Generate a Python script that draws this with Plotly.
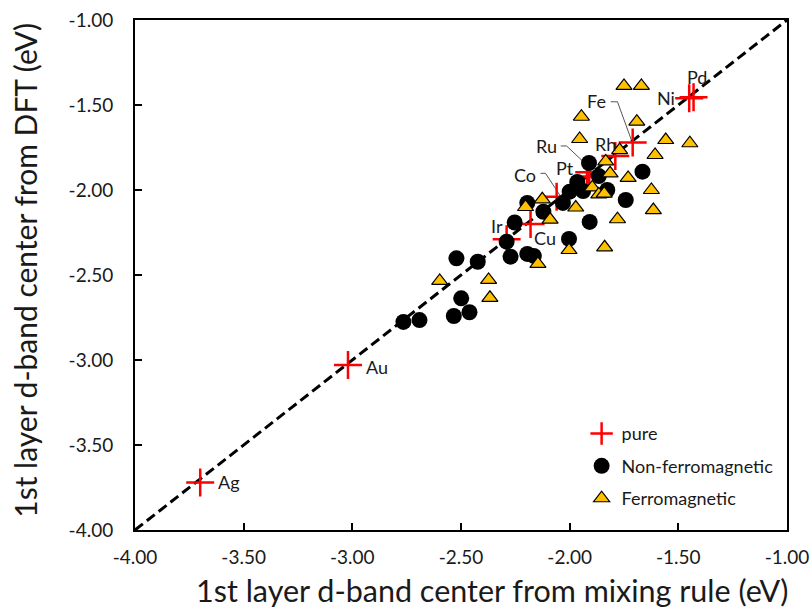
import plotly.graph_objects as go

# ---- data ----
pure_names = ["Ag", "Au", "Pd", "Ni", "Fe", "Rh", "Ru", "Pt", "Co", "Cu", "Ir"]
pure_x = [-3.70, -3.02, -1.43, -1.45, -1.71, -1.79, -1.91, -1.92, -2.06, -2.18, -2.29]
pure_y = [-3.72, -3.03, -1.455, -1.46, -1.72, -1.80, -1.895, -1.92, -2.04, -2.20, -2.29]

nonferro_x = [-2.765, -2.691, -2.533, -2.461, -2.499, -2.521, -2.423, -2.290, -2.253,
              -2.272, -2.195, -2.165, -2.003, -2.195, -2.121, -2.031, -2.000, -1.965,
              -1.938, -1.911, -1.866, -1.827, -1.908, -1.742, -1.665]
nonferro_y = [-2.776, -2.765, -2.741, -2.719, -2.637, -2.402, -2.422, -2.304, -2.191,
              -2.392, -2.376, -2.388, -2.288, -2.076, -2.128, -2.076, -2.010, -1.953,
              -2.006, -1.841, -1.918, -2.000, -2.188, -2.059, -1.892]

ferro_x = [-2.598, -2.373, -2.367, -2.146, -2.203, -2.126, -2.090, -1.972, -2.003,
           -1.896, -1.866, -1.841, -1.834, -1.814, -1.770, -1.731, -1.780, -1.839,
           -1.954, -1.946, -1.691, -1.750, -1.670, -1.607, -1.558, -1.447, -1.624, -1.615]
ferro_y = [-2.535, -2.529, -2.634, -2.435, -2.100, -2.055, -2.174, -2.103, -2.353,
           -1.985, -2.026, -2.021, -1.832, -1.902, -1.765, -1.929, -2.172, -2.337,
           -1.700, -1.569, -1.598, -1.388, -1.388, -1.794, -1.706, -1.725, -2.000, -2.118]

parity_x = [-4.0, -1.0]
parity_y = [-4.0, -1.0]

tick_vals = [-4.0, -3.5, -3.0, -2.5, -2.0, -1.5, -1.0]
tick_text = ["-4.00", "-3.50", "-3.00", "-2.50", "-2.00", "-1.50", "-1.00"]

x_title = "1st layer d-band center from mixing rule (eV)"
y_title = "1st layer d-band center from DFT (eV)"

# label offsets (pixels) and anchors for pure-metal labels
label_dx = [16, 16, 3, -12, -36, -10, -43, -22, -32, 14, -10]
label_dy = [0, -2, 20, 0, 41, 12, 26, 8, 22, -14, 13]
label_anchor = ["left", "left", "center", "right", "center", "center", "center",
                "center", "center", "center", "center"]

# leader lines (data coords) for Fe, Ru, Co
leaders = [
    ([-1.811, -1.780, -1.716], [-1.481, -1.481, -1.706]),
    ([-2.041, -2.014, -1.935], [-1.741, -1.741, -1.836]),
    ([-2.134, -2.111, -2.041], [-1.902, -1.902, -2.039]),
]

FONT = "Lato, Carlito, Calibri, sans-serif"
TXT = "#1a1a1a"

fig = go.Figure()

fig.add_trace(go.Scatter(x=parity_x, y=parity_y, mode="lines",
                         line=dict(color="black", width=3, dash="10px,5px"),
                         showlegend=False, hoverinfo="skip"))

for lx, ly in leaders:
    fig.add_trace(go.Scatter(x=lx, y=ly, mode="lines",
                             line=dict(color="#555555", width=1),
                             showlegend=False, hoverinfo="skip"))

fig.add_trace(go.Scatter(x=pure_x, y=pure_y, mode="markers", name="pure",
                         legendgroup="a",
                         marker=dict(symbol="cross-thin", size=20,
                                     line=dict(color="#ff0000", width=2.5),
                                     color="#ff0000")))

fig.add_trace(go.Scatter(x=nonferro_x, y=nonferro_y, mode="markers",
                         name="Non-ferromagnetic", legendgroup="b",
                         marker=dict(symbol="circle", size=16, color="black",
                                     line=dict(width=0))))

fig.add_trace(go.Scatter(x=ferro_x, y=ferro_y, mode="markers",
                         name="Ferromagnetic", legendgroup="c",
                         marker=dict(symbol="triangle-up", size=14, color="#ffc000",
                                     line=dict(color="black", width=1.2))))

for name, x, y, dx, dy, anc in zip(pure_names, pure_x, pure_y, label_dx, label_dy, label_anchor):
    fig.add_annotation(x=x, y=y, text=name, showarrow=False, xshift=dx, yshift=dy,
                       xanchor=anc, yanchor="middle",
                       font=dict(family=FONT, size=18, color=TXT))

# axis titles placed as annotations (offset like the original)
fig.add_annotation(text=x_title, xref="paper", yref="paper", x=0.548, y=-0.118,
                   xanchor="center", yanchor="middle", showarrow=False,
                   font=dict(family=FONT, size=30.5, color=TXT))
fig.add_annotation(text=y_title, xref="paper", yref="paper", x=-0.169, y=0.51,
                   xanchor="center", yanchor="middle", showarrow=False, textangle=-90,
                   font=dict(family=FONT, size=30, color=TXT))

axis_common = dict(
    range=[-4.0, -1.0], tickvals=tick_vals, ticktext=tick_text,
    showgrid=False, zeroline=False, showline=True, linecolor="black", linewidth=2,
    mirror=True, ticks="inside", ticklen=7, tickwidth=2, tickcolor="black",
    tickfont=dict(family=FONT, size=19, color=TXT), automargin=False,
)

fig.update_layout(
    width=810, height=613,
    margin=dict(l=135, r=23, t=20, b=83),
    paper_bgcolor="white", plot_bgcolor="white",
    xaxis=dict(**axis_common, ticklabelstandoff=9),
    yaxis=dict(**axis_common, ticklabelstandoff=16),
    legend=dict(x=0.685, y=0.225, xanchor="left", yanchor="top",
                bgcolor="rgba(0,0,0,0)", tracegroupgap=6,
                font=dict(family=FONT, size=18, color=TXT),
                itemwidth=30),
    showlegend=True,
)

fig.write_html("out.html")
